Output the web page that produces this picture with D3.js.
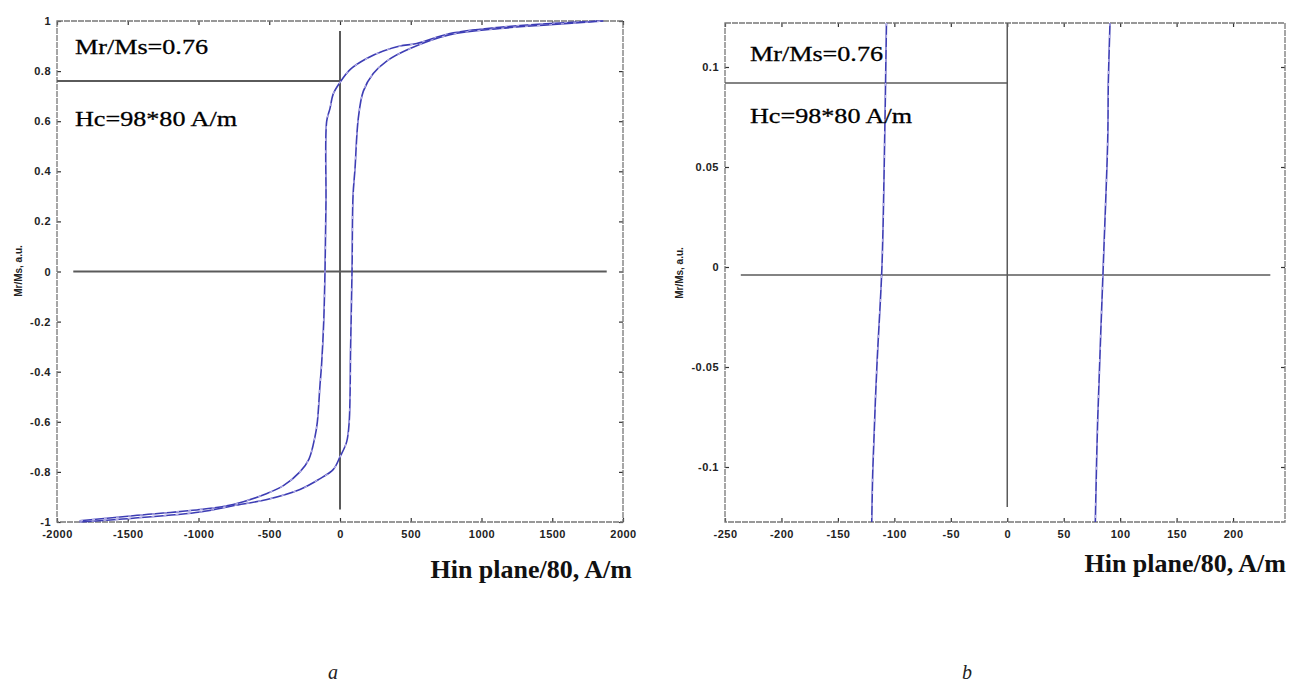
<!DOCTYPE html>
<html>
<head>
<meta charset="utf-8">
<script src="https://cdn.jsdelivr.net/npm/d3@7"></script>
<style>
    body { margin: 0; background: #fff; }
    svg { display: block; }
    .tick-label { font-family: 'Liberation Sans', Arial, sans-serif; font-size: 11px; font-weight: bold; fill: #222; letter-spacing: 0.5px; }
    .note { font-family: 'Liberation Serif', 'Times New Roman', serif; font-size: 22px; fill: #000; stroke: #000; stroke-width: 0.3px; }
    .xtitle { font-family: 'Liberation Serif', 'Times New Roman', serif; font-size: 26px; font-weight: bold; fill: #111; }
    .ytitle { font-family: 'Liberation Sans', Arial, sans-serif; font-size: 10px; font-weight: bold; fill: #222; }
    .panel { font-family: 'Liberation Serif', 'Times New Roman', serif; font-size: 20px; font-style: italic; fill: #222; }
</style>
</head>
<body>
<div class="chart"></div>
<script>
// Data
// panel a : full loop
const loopXTicks = [-2000, -1500, -1000, -500, 0, 500, 1000, 1500, 2000];
const loopYTicks = [1, 0.8, 0.6, 0.4, 0.2, 0, -0.2, -0.4, -0.6, -0.8, -1];
const loopDescH = [1860, 1484, 1130, 777, 542, 424, 306, 188, 71, 0, -47, -71, -94, -99, -106, -115, -130, -141, -160, -177, -220, -283, -400, -516, -755, -989, -1463, -1840];
const loopDescM = [1.0, 0.99, 0.975, 0.95, 0.91, 0.9, 0.88, 0.85, 0.806, 0.755, 0.71, 0.65, 0.6, 0.28, 0, -0.2, -0.37, -0.45, -0.6, -0.66, -0.75, -0.8, -0.855, -0.886, -0.93, -0.95, -0.975, -0.995];
const loopAscH = [-1840, -1463, -989, -755, -516, -283, -150, -47, 0, 47, 65, 75, 85, 92, 106, 129, 165, 235, 330, 495, 777, 1130, 1484, 1860];
const loopAscM = [-1.0, -0.985, -0.96, -0.935, -0.91, -0.87, -0.83, -0.79, -0.74, -0.68, -0.6, -0.3, 0, 0.3, 0.41, 0.61, 0.72, 0.79, 0.84, 0.89, 0.945, 0.97, 0.985, 1.0];

// panel b : zoom around M = 0
const zoomXTicks = [-250, -200, -150, -100, -50, 0, 50, 100, 150, 200];
const zoomYTicks = [0.1, 0.05, 0, -0.05, -0.1];
const zoomLeftH = [-107, -109, -111, -115.5, -119, -120];
const zoomLeftM = [0.122, 0.05, 0, -0.05, -0.1, -0.1275];
const zoomRightH = [91, 89.5, 89, 85, 80, 78];
const zoomRightM = [0.122, 0.092, 0.064, 0, -0.078, -0.1275];

const noteTexts = ['Mr/Ms=0.76', 'Hc=98*80 A/m'];
const xTitle = 'Hin plane/80, A/m';
const yTitle = 'Mr/Ms, a.u.';

const svg = d3.select('.chart')
    .append('svg')
    .attr('width', 1290)
    .attr('height', 682);

const curveColor = '#3d3db4';
const refColor = '#5a5a5a';

// matlab style labels, plain hyphen for the minus
function fmt(d) {
    return d3.format('~g')(d).replace('\u2212', '-');
}

function drawPanel(cfg) {
    const x = d3.scaleLinear().domain(cfg.xDomain).range([cfg.left, cfg.right]);
    const y = d3.scaleLinear().domain(cfg.yDomain).range([cfg.bottom, cfg.top]);
    const g = svg.append('g');

    // inside ticks on all four sides (matlab box)
    const axB = d3.axisBottom(x).tickValues(cfg.xTicks).tickFormat(fmt).tickSizeInner(-4).tickSizeOuter(0).tickPadding(8);
    const axT = d3.axisTop(x).tickValues(cfg.xTicks).tickFormat('').tickSizeInner(-4).tickSizeOuter(0);
    const axL = d3.axisLeft(y).tickValues(cfg.yTicks).tickFormat(fmt).tickSizeInner(-4).tickSizeOuter(0).tickPadding(6);
    const axR = d3.axisRight(y).tickValues(cfg.yTicks).tickFormat('').tickSizeInner(-4).tickSizeOuter(0);

    const gb = g.append('g').attr('transform', 'translate(0,' + cfg.bottom + ')').call(axB);
    g.append('g').attr('transform', 'translate(0,' + cfg.top + ')').call(axT);
    const gl = g.append('g').attr('transform', 'translate(' + cfg.left + ',0)').call(axL);
    g.append('g').attr('transform', 'translate(' + cfg.right + ',0)').call(axR);

    g.selectAll('.domain').remove();
    g.selectAll('.tick line').attr('stroke', '#333').attr('stroke-width', 1.2);
    gb.selectAll('text').attr('class', 'tick-label');
    gl.selectAll('text').attr('class', 'tick-label');

    // frame
    g.append('rect')
        .attr('x', cfg.left)
        .attr('y', cfg.top)
        .attr('width', cfg.right - cfg.left)
        .attr('height', cfg.bottom - cfg.top)
        .attr('fill', 'none')
        .attr('stroke', '#777')
        .attr('stroke-width', 1.3)
        .attr('stroke-dasharray', '6,1');

    // reference lines
    const refs = g.append('g').attr('stroke', refColor).attr('stroke-width', cfg.refWidth).attr('fill', 'none');
    refs.append('line')
        .attr('x1', x(cfg.zeroLine[0])).attr('x2', x(cfg.zeroLine[1]))
        .attr('y1', y(cfg.zeroLine[2])).attr('y2', y(cfg.zeroLine[2]));
    refs.append('line')
        .attr('x1', x(0)).attr('x2', x(0))
        .attr('y1', y(cfg.vLine[0])).attr('y2', y(cfg.vLine[1]));
    refs.append('line')
        .attr('x1', cfg.left).attr('x2', x(0))
        .attr('y1', y(cfg.mrLine)).attr('y2', y(cfg.mrLine));

    // curves
    const line = d3.line()
        .x(d => x(d[0]))
        .y(d => y(d[1]))
        .curve(d3.curveCatmullRom.alpha(0.5));
    cfg.branches.forEach(b => {
        const pts = b.h.map((h, i) => [h, b.m[i]]);
        g.append('path')
            .datum(pts)
            .attr('d', line)
            .attr('fill', 'none')
            .attr('stroke', curveColor)
            .attr('stroke-width', 1.6)
            .attr('stroke-linejoin', 'round');
        g.append('path')
            .datum(pts)
            .attr('d', line)
            .attr('fill', 'none')
            .attr('stroke', '#b9b3e8')
            .attr('stroke-width', 1.2)
            .attr('stroke-dasharray', '3,9');
    });

    // annotations
    g.append('text').attr('class', 'note')
        .attr('x', cfg.noteX).attr('y', cfg.noteY[0])
        .attr('textLength', 133).attr('lengthAdjust', 'spacingAndGlyphs')
        .text(noteTexts[0]);
    g.append('text').attr('class', 'note')
        .attr('x', cfg.noteX).attr('y', cfg.noteY[1])
        .attr('textLength', 162).attr('lengthAdjust', 'spacingAndGlyphs')
        .text(noteTexts[1]);

    g.append('text').attr('class', 'xtitle')
        .attr('x', cfg.xTitlePos[0]).attr('y', cfg.xTitlePos[1])
        .attr('text-anchor', 'end')
        .text(xTitle);

    g.append('text').attr('class', 'ytitle')
        .attr('transform', 'translate(' + cfg.yTitlePos[0] + ',' + cfg.yTitlePos[1] + ') rotate(-90)')
        .attr('text-anchor', 'middle')
        .attr('dy', '0.35em')
        .text(yTitle);

    g.append('text').attr('class', 'panel')
        .attr('x', cfg.panelPos[0]).attr('y', cfg.panelPos[1])
        .attr('text-anchor', 'middle')
        .text(cfg.panel);
}

drawPanel({
    left: 57, right: 623, top: 21, bottom: 522,
    xDomain: [-2000, 2000], yDomain: [-1, 1],
    xTicks: loopXTicks, yTicks: loopYTicks,
    zeroLine: [-1885, 1885, 0], vLine: [0.96, -0.95], mrLine: 0.76, refWidth: 2,
    branches: [{ h: loopDescH, m: loopDescM }, { h: loopAscH, m: loopAscM }],
    noteX: 75, noteY: [54, 126],
    xTitlePos: [632, 578], yTitlePos: [18, 271],
    panel: 'a', panelPos: [333, 679]
});

drawPanel({
    left: 725, right: 1285, top: 23, bottom: 522,
    xDomain: [-250, 246], yDomain: [-0.1275, 0.122],
    xTicks: zoomXTicks, yTicks: zoomYTicks,
    zeroLine: [-236, 233, -0.004], vLine: [0.122, -0.12], mrLine: 0.092, refWidth: 1.5,
    branches: [{ h: zoomLeftH, m: zoomLeftM }, { h: zoomRightH, m: zoomRightM }],
    noteX: 750, noteY: [61, 123],
    xTitlePos: [1286, 572], yTitlePos: [679, 273],
    panel: 'b', panelPos: [967, 679]
});
</script>
</body>
</html>
